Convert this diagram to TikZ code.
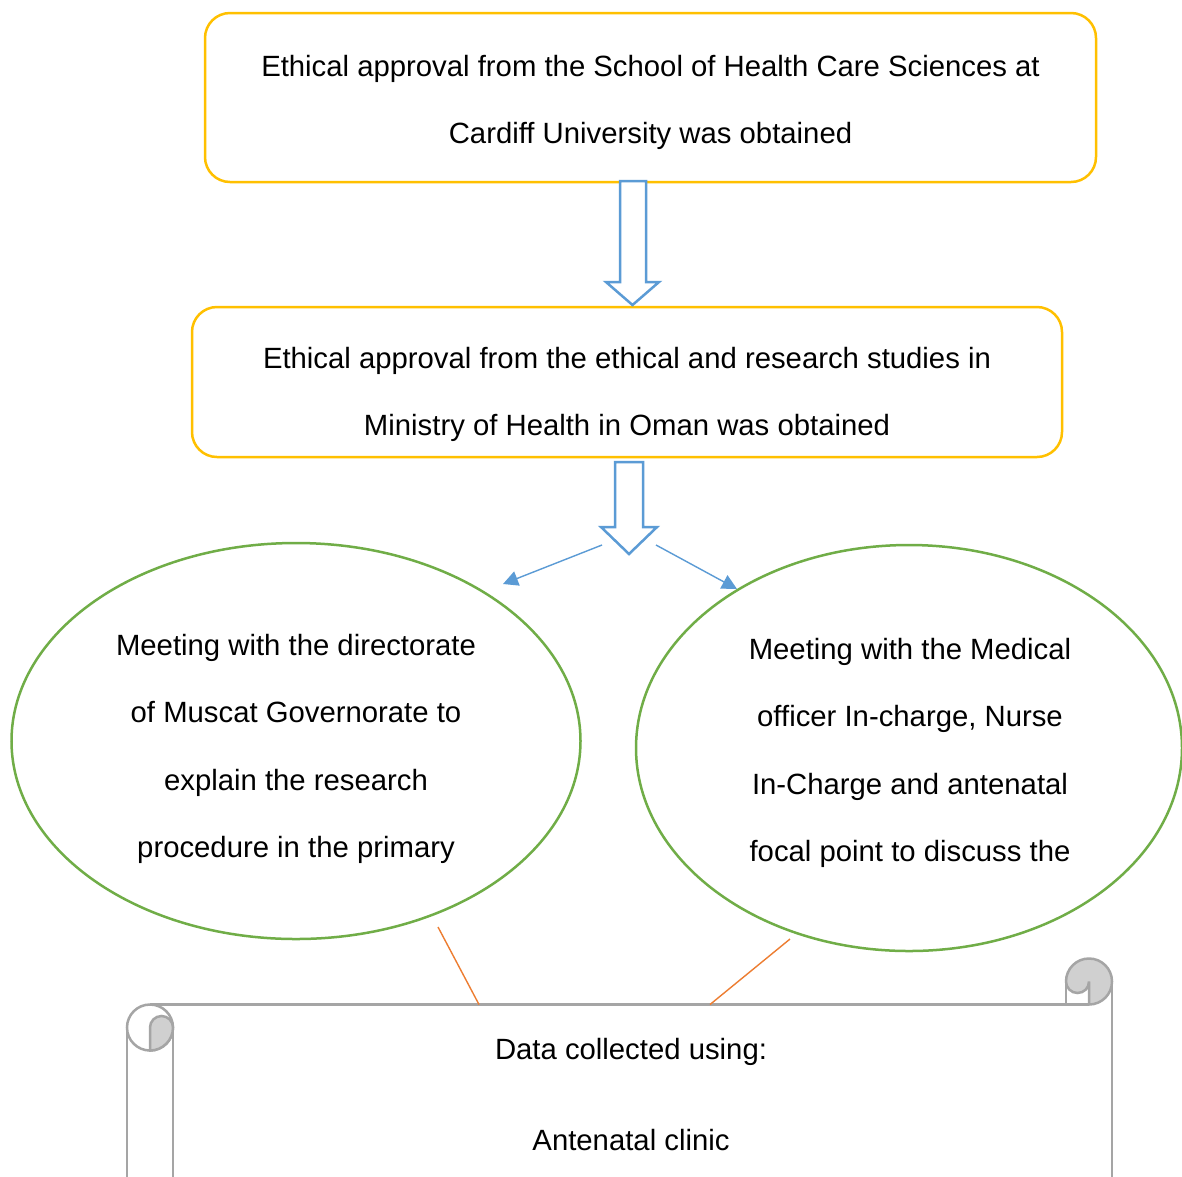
\documentclass[tikz,border=0pt]{standalone}
\usepackage{fontspec}
\setmainfont{Liberation Sans}
\usetikzlibrary{arrows.meta}
\definecolor{boxyellow}{HTML}{FFC000}
\definecolor{arrowblue}{HTML}{5B9BD5}
\definecolor{ellgreen}{HTML}{70AD47}
\definecolor{linkorange}{HTML}{ED7D31}
\definecolor{scrollgray}{HTML}{A5A5A5}
\definecolor{scrollfill}{HTML}{D0D0D0}
\tikzset{
  stagebox/.style={draw=boxyellow, line width=2.5pt, rounded corners=25pt, fill=white, inner sep=0pt},
  stagetext/.style={align=center, inner sep=0pt, font=\fontsize{29.3}{67.3}\selectfont},
  blockarrow/.style={draw=arrowblue, line width=2.5pt, fill=white, line join=miter},
  thinarrow/.style={draw=arrowblue, line width=1.4pt, -{Triangle[length=15pt,width=15pt]}},
  link/.style={draw=linkorange, line width=1.4pt},
  scrollline/.style={draw=scrollgray, line width=2.5pt},
}
\begin{document}
\begin{tikzpicture}[x=1pt,y=-1pt]
\useasboundingbox (0,0) rectangle (1182,1176);
\fill[white] (0,0) rectangle (1182,1176);

% boxes
\node[stagebox, minimum width=891pt, minimum height=169pt] (box1) at (650.5,97.5) {};
\node[stagetext] (t1) at (650.5,102.5) {Ethical approval from the School of Health Care Sciences at\\Cardiff University was obtained};

\node[stagebox, minimum width=870pt, minimum height=150pt] (box2) at (627,382) {};
\node[stagetext] (t2) at (627,394.5) {Ethical approval from the ethical and research studies in\\Ministry of Health in Oman was obtained};

% block arrows
\draw[blockarrow] (620,181) -- (646,181) -- (646,282) -- (659,282) -- (632.5,305) -- (606,282) -- (620,282) -- cycle;
\draw[blockarrow] (615,462) -- (643,462) -- (643,527) -- (657,527) -- (629,554) -- (601,527) -- (615,527) -- cycle;

% ellipses
\draw[ellgreen, line width=2.5pt] (296,741) ellipse [x radius=284.5, y radius=198];
\coordinate (ellL) at (296,741);
\draw[ellgreen, line width=2.5pt] (909,748) ellipse [x radius=273, y radius=203];
\coordinate (ellR) at (909,748);
\node[stagetext] (t3) at (296,749) {Meeting with the directorate\\of Muscat Governorate to\\explain the research\\procedure in the primary};
\node[stagetext] (t4) at (910,753) {Meeting with the Medical\\officer In-charge, Nurse\\In-Charge and antenatal\\focal point to discuss the};

% thin arrows
\coordinate (aLs) at (602,545);
\coordinate (aLe) at (503,584);
\coordinate (aRs) at (656,545);
\coordinate (aRe) at (737,589);
\draw[thinarrow] (aLs) -- (aLe);
\draw[thinarrow] (aRs) -- (aRe);

% scroll
\fill[white] (150,1004.5) rectangle (1112,1200);
\draw[scrollline] (150,1004.5) -- (1089,1004.5);
\draw[scrollline] (1112,981.5) -- (1112,1200);
\draw[scrollline] (127,1027.5) -- (127,1200);
\draw[scrollline] (173,1027.5) -- (173,1200);
% left curl
\draw[scrollline, fill=white] (150,1027.5) circle [radius=23];
\draw[scrollline, fill=scrollfill] (150,1027.5) arc[start angle=180, end angle=360, radius=11.5]
  arc[start angle=0, end angle=90, radius=23] -- cycle;
% right curl
\draw[scrollline, fill=scrollfill] (1066,981.5) arc[start angle=180, end angle=450, radius=23]
  -- (1089,981.5) arc[start angle=0, end angle=180, radius=11.5] -- cycle;
\draw[scrollline] (1066,981.5) -- (1066,1004.5);
\coordinate (scrollTL) at (479,1004.5);
\coordinate (scrollTR) at (710,1004.5);

\node[stagetext] (t5) at (631,1052) {Data collected using:};
\node[stagetext] (t6) at (631,1140) {Antenatal clinic};

% links
\coordinate (lkL) at (438,927);
\coordinate (lkR) at (790,939);
\draw[link] (lkL) -- (scrollTL);
\draw[link] (lkR) -- (scrollTR);
\end{tikzpicture}
\end{document}
